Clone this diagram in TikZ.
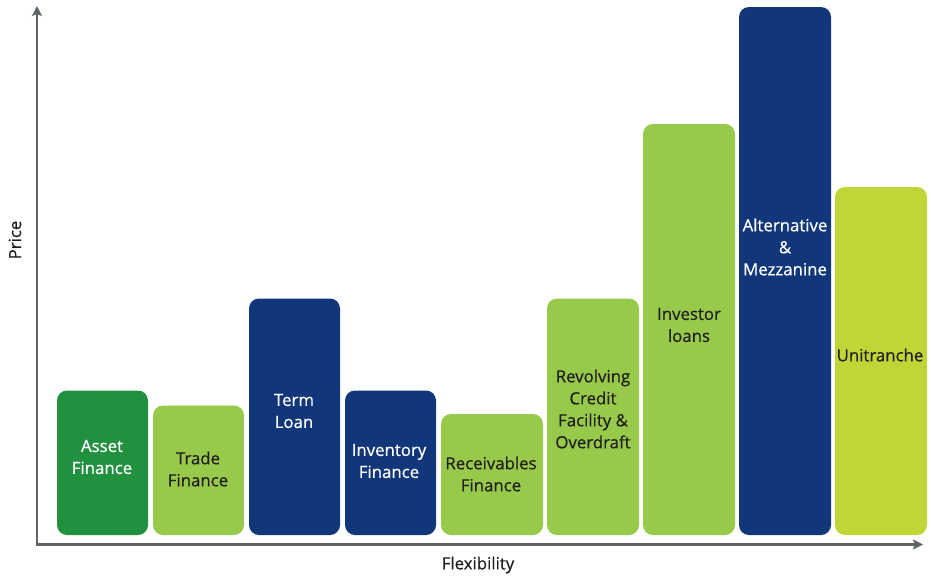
\documentclass[tikz,border=0pt]{standalone}
\usepackage{fontspec}
\setmainfont[FakeBold=0.6]{Open Sans}
\usetikzlibrary{arrows.meta}
\definecolor{axisColor}{RGB}{95,101,102}
\definecolor{assetGreen}{RGB}{33,145,63}
\definecolor{lightGreen}{RGB}{151,201,75}
\definecolor{darkBlue}{RGB}{18,54,122}
\definecolor{limeGreen}{RGB}{191,214,54}
\definecolor{darkText}{RGB}{35,31,32}
\tikzstyle{chart} = [x = 1pt, y = -1pt]
\tikzstyle{barStyle} = [rounded corners = 10pt]
\tikzstyle{axisLine} = [color=axisColor, line width=2.5pt, -{Stealth[length=10pt, width=10pt, inset=2pt]}]
\tikzstyle{barText} = [font=\fontsize{16.8}{22}\selectfont, align=center]
\tikzstyle{lightText} = [barText, text=white]
\tikzstyle{darkLabel} = [barText, text=darkText]
\newcommand{\barBottom}{535}
\newcommand{\priceBar}[4]{\fill [barStyle, fill=#4] (#1, \barBottom) rectangle (#2, #3);}

\begin{document}
\begin{tikzpicture}[chart]
        \useasboundingbox (0, 0) rectangle (931, 576);

        % axes
        \coordinate (origin) at (37, 544.5);
        \coordinate (priceTip) at (37, 6);
        \coordinate (flexTip) at (923, 544.5);
        \draw [axisLine] ([xshift=-1.25pt]origin) -- (flexTip);
        \draw [axisLine] ([yshift=-1.25pt]origin) -- (priceTip);
        \node [darkLabel, rotate=90] (price) at (15, 240) {Price};
        \node [darkLabel] (flexibility) at (478, 565) {Flexibility};

        % bars
        \priceBar{57}{148}{390.5}{assetGreen}
        \priceBar{153}{244}{405.5}{lightGreen}
        \priceBar{249}{340}{298.5}{darkBlue}
        \priceBar{345}{436}{390.5}{darkBlue}
        \priceBar{441}{543}{414}{lightGreen}
        \priceBar{547}{639}{298.5}{lightGreen}
        \priceBar{643}{735}{124}{lightGreen}
        \priceBar{739}{831}{7}{darkBlue}
        \priceBar{835}{927}{187}{limeGreen}

        % labels
        \node [lightText] (asset) at (102, 457) {Asset\\Finance};
        \node [darkLabel] (trade) at (198, 469) {Trade\\Finance};
        \node [lightText] (term) at (294, 411) {Term\\Loan};
        \node [lightText] (inventory) at (389, 461) {Inventory\\Finance};
        \node [darkLabel] (receivables) at (491, 474) {Receivables\\Finance};
        \node [darkLabel] (revolving) at (593, 409) {Revolving\\Credit\\Facility \&\\Overdraft};
        \node [darkLabel] (investor) at (689, 325) {Investor\\loans};
        \node [lightText] (mezzanine) at (785, 247) {Alternative\\\&\\Mezzanine};
        \node [darkLabel] (unitranche) at (880, 355) {Unitranche};
      \end{tikzpicture}
\end{document}
